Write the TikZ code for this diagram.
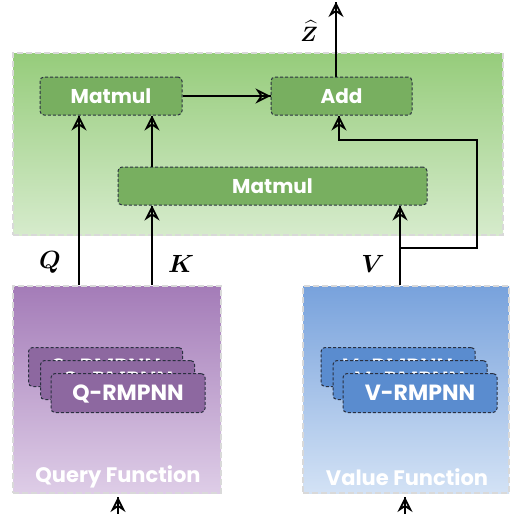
\documentclass[tikz,border=0pt]{standalone}
\usepackage{fontspec}
\usepackage{amsmath,bm}
\newfontfamily\lbl{Poppins}
\usetikzlibrary{arrows.meta}
\definecolor{gtop}{HTML}{96CC7B}
\definecolor{gbot}{HTML}{D6EBCC}
\definecolor{ginn}{HTML}{78AF60}
\definecolor{ptop}{HTML}{A47CB8}
\definecolor{pbot}{HTML}{DECDE7}
\definecolor{pinn}{HTML}{8D68A0}
\definecolor{btop}{HTML}{78A2DC}
\definecolor{bbot}{HTML}{D3E2F5}
\definecolor{binn}{HTML}{5A8CCF}
\definecolor{dashc}{HTML}{2A3040}
\tikzset{
  outerbox/.style={draw=gray!30, line width=1.6pt, dash pattern=on 6pt off 3pt, inner sep=0pt},
  innerbox/.style={draw=dashc, line width=1pt, dash pattern=on 3pt off 2pt, rounded corners=4pt, inner sep=0pt, text=white, font=\lbl\bfseries\fontsize{20}{22}\selectfont},
  stackbox/.style={innerbox, minimum width=154pt, minimum height=39pt, text depth=0pt, font=\lbl\bfseries\fontsize{22}{24}\selectfont},
  arr/.style={line width=1.8pt, -{Stealth[open,fill=none,length=15pt,width=15pt,inset=5pt,line width=1.8pt]}, postaction={draw,-,line width=1.8pt}},
  mlab/.style={font=\fontsize{24}{26}\selectfont, inner sep=0pt},
  flab/.style={font=\lbl\bfseries\fontsize{21}{23}\selectfont, text=white, inner sep=0pt}
}
\begin{document}
\begin{tikzpicture}[x=1pt,y=-1pt]
\useasboundingbox (0,0) rectangle (515,514);
\fill[white] (0,0) rectangle (515,514);
% outer boxes
\node[outerbox, top color=gtop, bottom color=gbot, minimum width=490pt, minimum height=182pt] (G) at (258,144) {};
\node[outerbox, top color=ptop, bottom color=pbot, minimum width=208pt, minimum height=207pt] (P) at (117,389.5) {};
\node[outerbox, top color=btop, bottom color=bbot, minimum width=206pt, minimum height=207pt] (B) at (406,389.5) {};
% inner nodes
\node[innerbox, fill=ginn, minimum width=142pt, minimum height=38pt] (M1) at (111,96) {Matmul};
\node[innerbox, fill=ginn, minimum width=141pt, minimum height=38pt] (A) at (341.5,96) {Add};
\node[innerbox, fill=ginn, minimum width=309pt, minimum height=38pt] (M2) at (272.5,186) {Matmul};
% stacks
\node[stackbox, fill=pinn] (Q3) at (105.5,367) {Q-RMPNN};
\node[stackbox, fill=pinn] (Q2) at (117.5,380) {Q-RMPNN};
\node[stackbox, fill=pinn] (Q1) at (128,393) {Q-RMPNN};
\node[stackbox, fill=binn] (V3) at (398,367) {V-RMPNN};
\node[stackbox, fill=binn] (V2) at (410,380) {V-RMPNN};
\node[stackbox, fill=binn] (V1) at (420,393) {V-RMPNN};
% function labels
\node[flab] (qf) at (118,477) {Query Function};
\node[flab] (vf) at (407,477) {Value Function};
% helper coordinates
\coordinate (qx) at (79,0);
\coordinate (kx) at (152,0);
\coordinate (vx) at (400,0);
\coordinate (br) at (400,248);
\coordinate (rt) at (477,140);
\coordinate (ax) at (339,140);
\coordinate (zout) at (336,2);
\coordinate (in1) at (118,520);
\coordinate (in1t) at (118,497);
\coordinate (in2) at (405,520);
\coordinate (in2t) at (405,497);
% connectors
\draw[arr] (qx |- P.north) -- (qx |- M1.south);
\draw[arr] (kx |- P.north) -- (kx |- M2.south);
\draw[arr] (kx |- M2.north) -- (kx |- M1.south);
\draw[arr] (vx |- B.north) -- (vx |- M2.south);
\draw[arr] (br) -| (rt) -- (ax) -- (ax |- A.south);
\draw[arr] (M1.east) -- (A.west);
\draw[arr] (zout |- A.north) -- (zout);
\draw[arr] (in1) -- (in1t);
\draw[arr] (in2) -- (in2t);
% labels
\node[mlab] (lq) at (50,262) {$\bm{Q}$};
\node[mlab] (lk) at (181,264) {$\bm{K}$};
\node[mlab] (lv) at (373,264) {$\bm{V}$};
\node[mlab, font=\fontsize{22}{24}\selectfont] (lz) at (309,31) {$\widehat{\bm{Z}}$};
\end{tikzpicture}
\end{document}
